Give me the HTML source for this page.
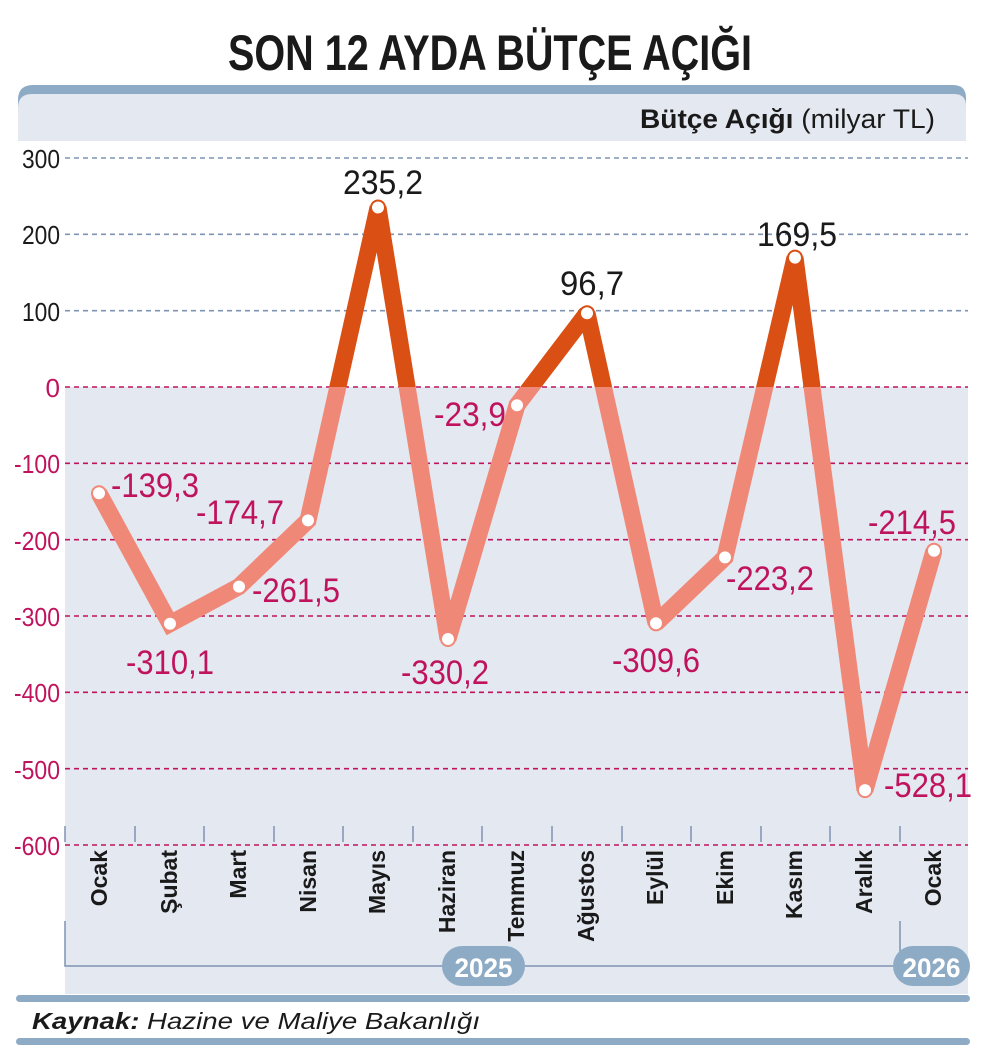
<!DOCTYPE html>
<html><head><meta charset="utf-8"><style>
html,body{margin:0;padding:0;background:#fff;}
svg{display:block;}
text{font-family:"Liberation Sans",sans-serif;}
</style></head><body>
<svg width="988" height="1060" viewBox="0 0 988 1060" xmlns="http://www.w3.org/2000/svg">
<defs>
<clipPath id="above"><rect x="0" y="0" width="988" height="387"/></clipPath>
<clipPath id="below"><rect x="0" y="387" width="988" height="700"/></clipPath>
</defs>
<text x="228" y="70" textLength="524" lengthAdjust="spacingAndGlyphs" font-size="50" font-weight="bold" fill="#1a1a1a">SON 12 AYDA BÜTÇE AÇIĞI</text>
<path d="M18 100 Q18 85 33 85 L953 85 Q966 85 966 98 L966 141 L18 141 Z" fill="#8eabc6"/>
<path d="M18 108 Q18 94 32 94 L954 94 Q966 94 966 106 L966 141 L18 141 Z" fill="#e4e8f0"/>
<text x="640" y="128" textLength="295" lengthAdjust="spacingAndGlyphs" font-size="27" fill="#1a1a1a"><tspan font-weight="bold">Bütçe Açığı</tspan> (milyar TL)</text>
<rect x="65" y="387" width="903" height="607" fill="#e4e8f0"/>
<g stroke-width="1.6" stroke-dasharray="5,4">
<line x1="65" x2="968" y1="158" y2="158" stroke="#7f93b3"/>
<line x1="65" x2="968" y1="234.3" y2="234.3" stroke="#7f93b3"/>
<line x1="65" x2="968" y1="310.7" y2="310.7" stroke="#7f93b3"/>
<line x1="65" x2="968" y1="387" y2="387" stroke="#c0135e"/>
<line x1="65" x2="968" y1="463.3" y2="463.3" stroke="#c0135e"/>
<line x1="65" x2="968" y1="539.7" y2="539.7" stroke="#c0135e"/>
<line x1="65" x2="968" y1="616" y2="616" stroke="#c0135e"/>
<line x1="65" x2="968" y1="692.3" y2="692.3" stroke="#c0135e"/>
<line x1="65" x2="968" y1="768.7" y2="768.7" stroke="#c0135e"/>
<line x1="65" x2="968" y1="845" y2="845" stroke="#c0135e"/>
</g>
<g font-size="26" text-anchor="end">
<text x="60" y="168" fill="#1a1a1a" textLength="38" lengthAdjust="spacingAndGlyphs">300</text>
<text x="60" y="244" fill="#1a1a1a" textLength="38" lengthAdjust="spacingAndGlyphs">200</text>
<text x="60" y="321" fill="#1a1a1a" textLength="38" lengthAdjust="spacingAndGlyphs">100</text>
<text x="60" y="397" fill="#c0135e">0</text>
<text x="60" y="473" fill="#c0135e" textLength="46" lengthAdjust="spacingAndGlyphs">-100</text>
<text x="60" y="550" fill="#c0135e" textLength="46" lengthAdjust="spacingAndGlyphs">-200</text>
<text x="60" y="626" fill="#c0135e" textLength="46" lengthAdjust="spacingAndGlyphs">-300</text>
<text x="60" y="702" fill="#c0135e" textLength="46" lengthAdjust="spacingAndGlyphs">-400</text>
<text x="60" y="779" fill="#c0135e" textLength="46" lengthAdjust="spacingAndGlyphs">-500</text>
<text x="60" y="855" fill="#c0135e" textLength="46" lengthAdjust="spacingAndGlyphs">-600</text>
</g>
<g stroke="#7f93b3" stroke-width="1.5">
<line x1="65" x2="65" y1="826" y2="842"/><line x1="135" x2="135" y1="826" y2="842"/><line x1="204" x2="204" y1="826" y2="842"/><line x1="274" x2="274" y1="826" y2="842"/><line x1="343" x2="343" y1="826" y2="842"/><line x1="413" x2="413" y1="826" y2="842"/><line x1="482" x2="482" y1="826" y2="842"/><line x1="552" x2="552" y1="826" y2="842"/><line x1="622" x2="622" y1="826" y2="842"/><line x1="691" x2="691" y1="826" y2="842"/><line x1="761" x2="761" y1="826" y2="842"/><line x1="830" x2="830" y1="826" y2="842"/><line x1="900" x2="900" y1="826" y2="842"/>
<path d="M65 921 L65 966 L450 966" fill="none"/>
<path d="M520 966 L900 966 L900 921" fill="none"/>
</g>
<g font-size="23" font-weight="bold" fill="#1a1a1a" text-anchor="end">
<text transform="translate(107,850) rotate(-90)">Ocak</text>
<text transform="translate(177,850) rotate(-90)">Şubat</text>
<text transform="translate(246,850) rotate(-90)">Mart</text>
<text transform="translate(316,850) rotate(-90)">Nisan</text>
<text transform="translate(385,850) rotate(-90)">Mayıs</text>
<text transform="translate(455,850) rotate(-90)">Haziran</text>
<text transform="translate(524,850) rotate(-90)">Temmuz</text>
<text transform="translate(594,850) rotate(-90)">Ağustos</text>
<text transform="translate(663,850) rotate(-90)">Eylül</text>
<text transform="translate(733,850) rotate(-90)">Ekim</text>
<text transform="translate(802,850) rotate(-90)">Kasım</text>
<text transform="translate(872,850) rotate(-90)">Aralık</text>
<text transform="translate(941,850) rotate(-90)">Ocak</text>
</g>
<rect x="442" y="946" width="83" height="40" rx="20" fill="#8eabc6"/>
<text x="483.5" y="977" text-anchor="middle" font-size="27" font-weight="bold" fill="#fff" textLength="58" lengthAdjust="spacingAndGlyphs">2025</text>
<rect x="893" y="946" width="77" height="40" rx="20" fill="#8eabc6"/>
<text x="931.5" y="977" text-anchor="middle" font-size="27" font-weight="bold" fill="#fff" textLength="58" lengthAdjust="spacingAndGlyphs">2026</text>
<rect x="16" y="995" width="954" height="7" rx="3.5" fill="#8eabc6"/>
<rect x="16" y="1038" width="954" height="7" rx="3.5" fill="#8eabc6"/>
<text x="32" y="1029" font-size="23" font-style="italic" fill="#1a1a1a" textLength="448" lengthAdjust="spacingAndGlyphs"><tspan font-weight="bold">Kaynak:</tspan> Hazine ve Maliye Bakanlığı</text>
<g fill="none" stroke-width="17" stroke-linejoin="miter" stroke-miterlimit="2">
<polyline clip-path="url(#below)" stroke="#f08878" points="99,493.3 170,623.7 239,586.6 308,520.4 378,207.5 448,639 517,405.2 587,313.2 656,623.3 725,557.4 795,257.6 865,790.1 934,550.7"/>
<polyline clip-path="url(#above)" stroke="#d94f14" points="99,493.3 170,623.7 239,586.6 308,520.4 378,207.5 448,639 517,405.2 587,313.2 656,623.3 725,557.4 795,257.6 865,790.1 934,550.7"/>
</g>
<g fill="#fff" stroke-width="2">
<circle cx="99" cy="493.3" r="7" stroke="#f08878"/>
<circle cx="170" cy="623.7" r="7" stroke="#f08878"/>
<circle cx="239" cy="586.6" r="7" stroke="#f08878"/>
<circle cx="308" cy="520.4" r="7" stroke="#f08878"/>
<circle cx="378" cy="207.5" r="7" stroke="#d94f14"/>
<circle cx="448" cy="639" r="7" stroke="#f08878"/>
<circle cx="517" cy="405.2" r="7" stroke="#f08878"/>
<circle cx="587" cy="313.2" r="7" stroke="#d94f14"/>
<circle cx="656" cy="623.3" r="7" stroke="#f08878"/>
<circle cx="725" cy="557.4" r="7" stroke="#f08878"/>
<circle cx="795" cy="257.6" r="7" stroke="#d94f14"/>
<circle cx="865" cy="790.1" r="7" stroke="#f08878"/>
<circle cx="934" cy="550.7" r="7" stroke="#f08878"/>
</g>
<g font-size="34" text-anchor="middle" lengthAdjust="spacingAndGlyphs">
<text x="155" y="497" fill="#c0135e" textLength="88" lengthAdjust="spacingAndGlyphs">-139,3</text>
<text x="170" y="674" fill="#c0135e" textLength="88" lengthAdjust="spacingAndGlyphs">-310,1</text>
<text x="240" y="524" fill="#c0135e" textLength="88" lengthAdjust="spacingAndGlyphs">-174,7</text>
<text x="296" y="602" fill="#c0135e" textLength="88" lengthAdjust="spacingAndGlyphs">-261,5</text>
<text x="383" y="194" fill="#1a1a1a" textLength="80" lengthAdjust="spacingAndGlyphs">235,2</text>
<text x="445" y="684" fill="#c0135e" textLength="88" lengthAdjust="spacingAndGlyphs">-330,2</text>
<text x="470" y="426" fill="#c0135e" textLength="72" lengthAdjust="spacingAndGlyphs">-23,9</text>
<text x="592" y="295" fill="#1a1a1a" textLength="64" lengthAdjust="spacingAndGlyphs">96,7</text>
<text x="656" y="672" fill="#c0135e" textLength="88" lengthAdjust="spacingAndGlyphs">-309,6</text>
<text x="770" y="590" fill="#c0135e" textLength="88" lengthAdjust="spacingAndGlyphs">-223,2</text>
<text x="797" y="246" fill="#1a1a1a" textLength="80" lengthAdjust="spacingAndGlyphs">169,5</text>
<text x="928" y="797" fill="#c0135e" textLength="88" lengthAdjust="spacingAndGlyphs">-528,1</text>
<text x="912" y="534" fill="#c0135e" textLength="88" lengthAdjust="spacingAndGlyphs">-214,5</text>
</g>
</svg>
</body></html>
